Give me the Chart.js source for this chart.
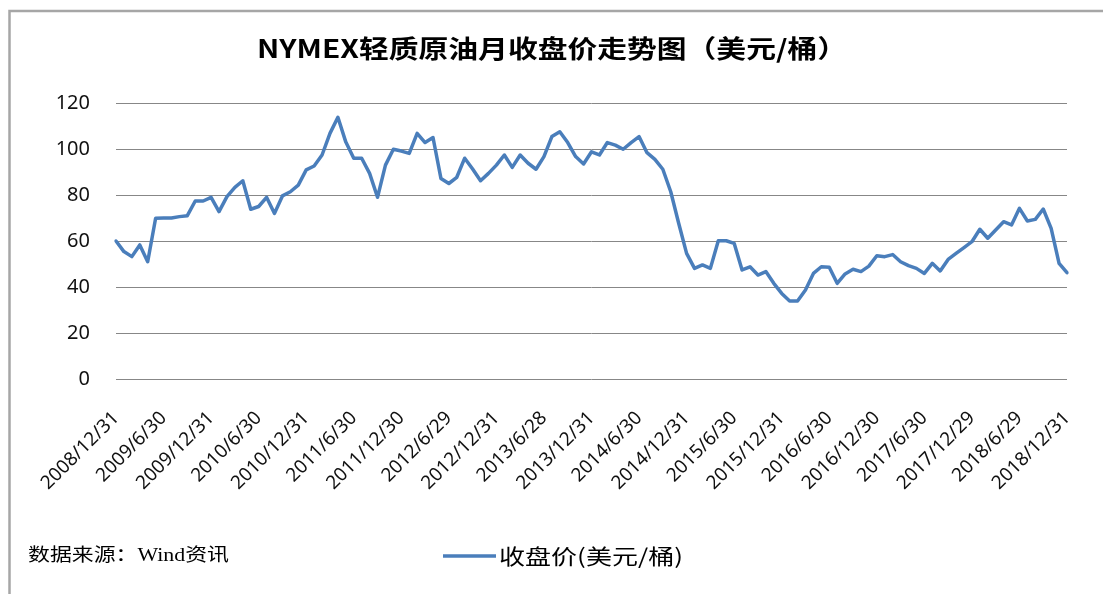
<!DOCTYPE html>
<html>
<head>
<meta charset="utf-8">
<script src="https://cdn.jsdelivr.net/npm/chart.js@4.4.1/dist/chart.umd.min.js"></script>
<style>
html,body{margin:0;padding:0;background:#fff;}
#wrap{position:relative;width:1103px;height:594px;}
</style>
</head>
<body>
<div id="wrap"><canvas id="c" width="1103" height="594"></canvas></div>
<script>
// ---- data ----
const chartTitle = 'NYMEX轻质原油月收盘价走势图（美元/桶）';
const seriesName = '收盘价(美元/桶)';
const sourceNote = '数据来源：Wind资讯';
const startYear = 2008, startMonth = 12; // first category: 2008/12
const tickLabels = ['2008/12/31','2009/6/30','2009/12/31','2010/6/30','2010/12/31','2011/6/30',
  '2011/12/30','2012/6/29','2012/12/31','2013/6/28','2013/12/31','2014/6/30','2014/12/31',
  '2015/6/30','2015/12/31','2016/6/30','2016/12/30','2017/6/30','2017/12/29','2018/6/29','2018/12/31'];
const closePrice = [
  60,55.4,53.2,58.3,51,
  69.9,70,70,70.6,71,77.4,77.4,79,
  72.8,79.3,83.3,86.2,73.8,75,79,72,79.6,81.4,84.3,90.9,
  92.6,97.4,106.8,113.8,103,96,96,89.4,79,93,99.9,99.1,
  98.1,106.8,102.8,105,87.2,85,87.7,96,91.3,86.2,89.4,93,
  97.4,92,97.4,93.8,91.2,96.7,105.4,107.5,102.8,96.7,93.5,98.8,
  97.4,102.8,101.7,99.9,102.8,105.4,98.4,95.5,91.2,81.4,67.7,54.6,
  48.1,49.6,48.1,60.1,60.1,59,47.4,48.8,45.2,46.7,41.6,37.2,
  33.9,33.9,38.7,45.9,48.8,48.6,41.6,45.7,47.7,46.7,49.1,53.6,
  53.2,54.1,51,49.3,48.1,45.9,50.3,47,52,54.6,57.1,59.7,
  65.1,61.2,64.8,68.4,67,74.2,68.7,69.4,73.9,65.5,50.3,46.2
];
const months = [];
for (let k = 0; k < closePrice.length; k++) {
  const m = (startMonth - 1 + k) % 12 + 1;
  const y = startYear + Math.floor((startMonth - 1 + k) / 12);
  months.push(y + '/' + m);
}
const labelEvery = 6;

const lineColor = '#4a7ebb';
const gridColor = '#878787';

const decor = {
  id: 'decor',
  afterDraw(chart) {
    const ctx = chart.ctx;
    ctx.save();
    // frame
    ctx.strokeStyle = '#a6a6a6';
    ctx.lineWidth = 2.5;
    ctx.beginPath();
    ctx.moveTo(9.5, 594); ctx.lineTo(9.5, 11); ctx.lineTo(1103, 11);
    ctx.stroke();

    function stretched(text, font, x, y, targetW, align) {
      ctx.save();
      ctx.font = font;
      const w = ctx.measureText(text).width;
      const s = targetW / w;
      ctx.translate(x, y);
      ctx.scale(s, 1);
      ctx.textAlign = align;
      ctx.textBaseline = 'middle';
      ctx.fillStyle = '#000';
      ctx.fillText(text, 0, 0);
      ctx.restore();
    }
    // title
    stretched(chartTitle, 'bold 25px "Noto Sans CJK SC"', 552, 48, 590, 'center');
    // source note
    stretched(sourceNote, '18px "Liberation Serif", "Noto Sans CJK SC"', 28, 556, 201, 'left');
    // legend
    ctx.strokeStyle = lineColor;
    ctx.lineWidth = 3.5;
    ctx.beginPath();
    ctx.moveTo(443, 556); ctx.lineTo(496, 556);
    ctx.stroke();
    stretched(chart.data.datasets[0].label, '21px "Noto Sans CJK SC"', 499, 556, 184, 'left');
    ctx.restore();
  }
};

new Chart(document.getElementById('c'), {
  type: 'line',
  data: {
    labels: months,
    datasets: [{
      label: seriesName,
      data: closePrice,
      borderColor: lineColor,
      backgroundColor: lineColor,
      borderWidth: 3.5,
      pointRadius: 0,
      tension: 0,
      borderJoinStyle: 'round',
      borderCapStyle: 'round'
    }]
  },
  options: {
    responsive: false,
    animation: false,
    devicePixelRatio: 1,
    layout: { padding: { left: 30, top: 103, right: 0, bottom: 0 } },
    plugins: { legend: { display: false }, title: { display: false }, tooltip: { enabled: false } },
    scales: {
      x: {
        type: 'category',
        grid: { display: false, drawTicks: false },
        border: { display: false },
        ticks: {
          autoSkip: false, maxRotation: 45, minRotation: 45, padding: 28,
          color: '#111', font: { family: '"Noto Sans"', size: 19 },
          callback: (v, i) => (i % labelEvery === 0 ? tickLabels[i / labelEvery] : '')
        },
        afterFit: s => { s.height = 594 - 379; s.paddingRight = 36; s.paddingLeft = 0; }
      },
      y: {
        min: 0, max: 120,
        grid: { color: gridColor, lineWidth: 1, drawTicks: false },
        border: { display: false },
        ticks: { stepSize: 20, padding: 26, color: '#111', font: { family: '"Noto Sans"', size: 20 } },
        afterFit: s => { s.width = 86; }
      }
    }
  },
  plugins: [decor]
});
</script>
</body>
</html>
